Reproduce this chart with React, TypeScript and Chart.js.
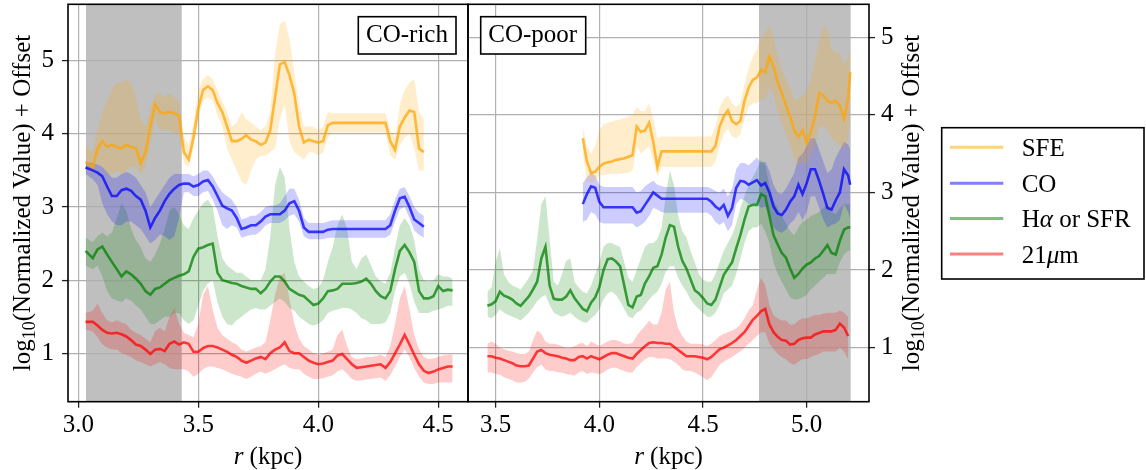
import React, { useEffect, useRef } from 'react';
import { Chart, registerables } from 'chart.js';

Chart.register(...registerables);

// ---------------- DATA ----------------
// Left panel (CO-rich): radius grid (kpc)
const LEFT_R = [
  3.03, 3.06, 3.08, 3.10, 3.12, 3.14, 3.16, 3.18, 3.20, 3.22,
  3.24, 3.26, 3.28, 3.30, 3.32, 3.34, 3.36, 3.38, 3.40, 3.42,
  3.44, 3.46, 3.48, 3.50, 3.52, 3.54, 3.56, 3.58, 3.60, 3.62,
  3.64, 3.66, 3.68, 3.70, 3.72, 3.74, 3.76, 3.78, 3.80, 3.82,
  3.84, 3.86, 3.88, 3.90, 3.92, 3.94, 3.96, 3.98, 4.00, 4.02,
  4.04, 4.06, 4.08, 4.10, 4.12, 4.14, 4.16, 4.18, 4.20, 4.22,
  4.24, 4.26, 4.28, 4.30, 4.32, 4.34, 4.36, 4.38, 4.40, 4.42,
  4.44, 4.46, 4.48, 4.50, 4.52, 4.54, 4.56,
];
const LEFT_SFE = [
  3.62, 3.55, 3.80, 3.90, 3.82, 3.85, 3.82, 3.80, 3.85, 3.82,
  3.80, 3.60, 3.75, 4.10, 4.40, 4.30, 4.28, 4.30, 4.28, 4.25,
  3.75, 3.65, 3.95, 4.35, 4.60, 4.65, 4.60, 4.42, 4.30, 4.10,
  3.90, 3.90, 3.93, 3.98, 3.92, 3.90, 3.85, 3.88, 4.05, 4.50,
  4.95, 4.98, 4.80, 4.55, 4.10, 3.88, 3.92, 3.90, 3.88, 3.90,
  4.12, 4.15, 4.15, 4.15, 4.15, 4.15, 4.15, 4.15, 4.15, 4.15,
  4.15, 4.15, 4.15, 3.90, 3.78, 4.10, 4.22, 4.32, 4.30, 3.80,
  3.75, null, null, null, null, null, null,
];
const LEFT_SFE_HI = [
  3.85, 3.75, 4.05, 4.30, 4.45, 4.60, 4.70, 4.70, 4.75, 4.70,
  4.50, 4.20, 4.10, 4.35, 4.55, 4.55, 4.50, 4.55, 4.50, 4.45,
  3.95, 3.85, 4.15, 4.60, 4.75, 4.80, 4.75, 4.60, 4.45, 4.30,
  4.10, 4.15, 4.30, 4.20, 4.15, 4.10, 4.05, 4.10, 4.30, 5.10,
  5.50, 5.55, 5.30, 4.85, 4.40, 4.10, 4.10, 4.10, 4.05, 4.10,
  4.30, 4.28, 4.28, 4.28, 4.28, 4.28, 4.28, 4.28, 4.28, 4.28,
  4.28, 4.28, 4.28, 4.05, 3.95, 4.40, 4.60, 4.70, 4.75, 4.30,
  4.20, null, null, null, null, null, null,
];
const LEFT_SFE_LO = [
  3.55, 3.45, 3.60, 3.55, 3.45, 3.45, 3.50, 3.45, 3.50, 3.55,
  3.55, 3.45, 3.55, 3.85, 4.20, 4.05, 4.05, 4.05, 4.00, 4.00,
  3.60, 3.55, 3.80, 4.20, 4.45, 4.50, 4.45, 4.25, 4.10, 3.80,
  3.65, 3.50, 3.35, 3.30, 3.50, 3.65, 3.70, 3.70, 3.75, 3.80,
  4.20, 4.40, 3.90, 3.75, 3.70, 3.65, 3.75, 3.75, 3.70, 3.75,
  3.95, 4.02, 4.02, 4.02, 4.02, 4.02, 4.02, 4.02, 4.02, 4.02,
  4.02, 4.02, 4.02, 3.70, 3.65, 3.85, 3.95, 4.00, 3.80, 3.50,
  3.50, null, null, null, null, null, null,
];
const LEFT_CO = [
  3.54, 3.50, 3.47, 3.42, 3.28, 3.15, 3.15, 3.23, 3.25, 3.22,
  3.15, 3.10, 2.95, 2.72, 2.85, 2.95, 3.08, 3.18, 3.25, 3.30,
  3.32, 3.32, 3.28, 3.30, 3.35, 3.37, 3.28, 3.15, 3.02, 2.98,
  2.95, 2.85, 2.70, 2.72, 2.75, 2.75, 2.80, 2.87, 2.90, 2.90,
  2.90, 2.95, 3.05, 3.08, 2.95, 2.72, 2.66, 2.66, 2.66, 2.66,
  2.69, 2.70, 2.70, 2.70, 2.70, 2.70, 2.70, 2.70, 2.70, 2.70,
  2.70, 2.70, 2.70, 2.75, 2.95, 3.12, 3.14, 3.00, 2.83, 2.78,
  2.73, null, null, null, null, null, null,
];
const LEFT_CO_HI = [
  3.62, 3.60, 3.58, 3.55, 3.48, 3.40, 3.40, 3.45, 3.48, 3.45,
  3.40, 3.30, 3.20, 3.00, 3.10, 3.20, 3.30, 3.40, 3.45, 3.45,
  3.45, 3.45, 3.42, 3.45, 3.50, 3.50, 3.42, 3.30, 3.20, 3.15,
  3.10, 3.00, 2.83, 2.85, 2.88, 2.88, 2.93, 3.00, 3.02, 3.02,
  3.05, 3.15, 3.25, 3.25, 3.10, 2.85, 2.78, 2.78, 2.78, 2.78,
  2.80, 2.82, 2.82, 2.82, 2.82, 2.82, 2.82, 2.82, 2.82, 2.82,
  2.82, 2.82, 2.82, 2.90, 3.10, 3.25, 3.27, 3.15, 3.00, 2.92,
  2.88, null, null, null, null, null, null,
];
const LEFT_CO_LO = [
  3.45, 3.38, 3.30, 3.05, 2.90, 2.80, 2.75, 2.75, 2.80, 2.80,
  2.75, 2.70, 2.60, 2.50, 2.55, 2.62, 2.60, 2.55, 2.60, 2.85,
  3.20, 3.20, 3.15, 3.15, 3.20, 3.22, 3.10, 2.95, 2.75, 2.70,
  2.75, 2.72, 2.58, 2.60, 2.62, 2.62, 2.67, 2.75, 2.78, 2.78,
  2.78, 2.82, 2.88, 2.90, 2.80, 2.60, 2.56, 2.56, 2.56, 2.56,
  2.58, 2.58, 2.58, 2.58, 2.58, 2.58, 2.58, 2.58, 2.58, 2.58,
  2.58, 2.58, 2.58, 2.62, 2.80, 2.97, 3.00, 2.85, 2.68, 2.62,
  2.58, null, null, null, null, null, null,
];
const LEFT_HA = [
  2.40, 2.30, 2.42, 2.46, 2.35, 2.25, 2.15, 2.05, 2.12, 2.08,
  2.02, 1.95, 1.85, 1.80, 1.88, 1.90, 1.95, 2.00, 2.03, 2.06,
  2.08, 2.12, 2.32, 2.43, 2.45, 2.48, 2.50, 2.10, 2.00, 1.98,
  1.96, 1.95, 1.92, 1.90, 1.88, 1.88, 1.82, 1.88, 1.98, 2.05,
  2.05, 1.98, 1.88, 1.84, 1.80, 1.78, 1.72, 1.66, 1.68, 1.75,
  1.85, 1.86, 1.88, 1.95, 1.95, 1.95, 1.96, 1.98, 2.02, 1.95,
  1.85, 1.78, 1.75, 1.85, 2.15, 2.40, 2.48, 2.38, 2.25, 1.85,
  1.75, 1.75, 1.78, 1.92, 1.85, 1.87, 1.86,
];
const LEFT_HA_HI = [
  2.58, 2.52, 2.60, 2.65, 2.60, 2.65, 2.85, 3.05, 2.95, 2.70,
  2.55, 2.45, 2.30, 2.25, 2.35, 2.50, 2.70, 2.95, 3.00, 2.90,
  2.75, 2.70, 2.85, 2.95, 3.05, 3.10, 3.00, 2.60, 2.30, 2.20,
  2.15, 2.10, 2.10, 2.05, 2.00, 2.00, 2.00, 2.15, 2.60, 3.30,
  3.55, 3.40, 2.70, 2.25, 2.05, 1.98, 1.92, 1.88, 1.90, 2.00,
  2.25, 2.45, 2.75, 2.90, 2.70, 2.25, 2.15, 2.30, 2.35, 2.20,
  2.05, 1.98, 1.95, 2.10, 2.45, 2.75, 2.85, 2.75, 2.55, 2.15,
  2.00, 1.98, 2.00, 2.08, 2.05, 2.05, 2.02,
];
const LEFT_HA_LO = [
  2.20, 2.15, 2.20, 2.05, 1.85, 1.75, 1.72, 1.70, 1.75, 1.72,
  1.65, 1.60, 1.50, 1.40, 1.40, 1.45, 1.50, 1.50, 1.55, 1.55,
  1.45, 1.40, 1.45, 1.65, 1.85, 1.95, 2.00, 1.70, 1.50, 1.40,
  1.38, 1.45, 1.50, 1.55, 1.60, 1.62, 1.60, 1.60, 1.65, 1.70,
  1.75, 1.70, 1.62, 1.58, 1.50, 1.45, 1.40, 1.38, 1.40, 1.45,
  1.55, 1.58, 1.60, 1.62, 1.62, 1.60, 1.55, 1.48, 1.45, 1.40,
  1.40, 1.40, 1.42, 1.55, 1.85, 2.05, 2.10, 1.95, 1.70, 1.55,
  1.55, 1.55, 1.58, 1.60, 1.62, 1.65, 1.65,
];
const LEFT_21 = [
  1.43, 1.43, 1.38, 1.32, 1.28, 1.27, 1.28, 1.26, 1.23, 1.18,
  1.12, 1.10, 1.05, 0.99, 1.05, 1.06, 1.03, 1.13, 1.16, 1.12,
  1.15, 1.13, 1.02, 1.02, 1.07, 1.10, 1.10, 1.08, 1.05, 1.02,
  0.98, 0.95, 0.90, 0.87, 0.90, 0.93, 0.95, 0.92, 1.00, 1.05,
  1.08, 1.15, 1.03, 1.00, 1.00, 0.95, 0.90, 0.87, 0.85, 0.86,
  0.88, 0.90, 0.97, 0.99, 0.92, 0.85, 0.80, 0.81, 0.82, 0.83,
  0.84, 0.85, 0.80, 0.88, 1.00, 1.12, 1.25, 1.12, 0.98, 0.85,
  0.76, 0.73, 0.75, 0.78, 0.80, 0.82, 0.82,
];
const LEFT_21_HI = [
  1.55, 1.58, 1.68, 1.55, 1.45, 1.42, 1.45, 1.42, 1.40, 1.32,
  1.28, 1.25, 1.20, 1.15, 1.30, 1.35, 1.30, 1.50, 1.62, 1.40,
  1.28, 1.25, 1.22, 1.40, 1.80, 1.92, 1.60, 1.35, 1.25, 1.20,
  1.15, 1.12, 1.05, 1.02, 1.05, 1.08, 1.10, 1.15, 1.45, 1.80,
  2.05, 2.10, 1.75, 1.40, 1.20, 1.10, 1.05, 1.00, 0.98, 1.00,
  1.02, 1.05, 1.25, 1.32, 1.10, 0.95, 0.92, 0.93, 0.95, 0.95,
  0.96, 0.98, 0.95, 1.10, 1.40, 1.75, 1.92, 1.60, 1.25, 1.05,
  0.95, 0.92, 0.93, 0.95, 0.97, 0.98, 0.98,
];
const LEFT_21_LO = [
  1.32, 1.30, 1.22, 1.12, 1.08, 1.05, 1.05, 1.00, 0.98, 0.95,
  0.90, 0.88, 0.85, 0.82, 0.85, 0.88, 0.85, 0.80, 0.78, 0.78,
  0.78, 0.75, 0.68, 0.72, 0.78, 0.82, 0.82, 0.80, 0.78, 0.75,
  0.72, 0.70, 0.68, 0.65, 0.68, 0.72, 0.75, 0.72, 0.75, 0.78,
  0.82, 0.85, 0.80, 0.78, 0.78, 0.72, 0.68, 0.65, 0.65, 0.66,
  0.68, 0.70, 0.75, 0.78, 0.72, 0.65, 0.62, 0.63, 0.64, 0.65,
  0.66, 0.67, 0.62, 0.70, 0.82, 0.95, 1.05, 0.95, 0.80, 0.68,
  0.60, 0.58, 0.58, 0.60, 0.60, 0.60, 0.60,
];

// Right panel (CO-poor): radius grid (kpc)
const RIGHT_R = [
  3.46, 3.48, 3.50, 3.52, 3.54, 3.56, 3.58, 3.60, 3.62, 3.64,
  3.66, 3.68, 3.70, 3.72, 3.74, 3.76, 3.78, 3.80, 3.82, 3.84,
  3.86, 3.88, 3.90, 3.92, 3.94, 3.96, 3.98, 4.00, 4.02, 4.04,
  4.06, 4.08, 4.10, 4.12, 4.14, 4.16, 4.18, 4.20, 4.22, 4.24,
  4.26, 4.28, 4.30, 4.32, 4.34, 4.36, 4.38, 4.40, 4.42, 4.44,
  4.46, 4.48, 4.50, 4.52, 4.54, 4.56, 4.58, 4.60, 4.62, 4.64,
  4.66, 4.68, 4.70, 4.72, 4.74, 4.76, 4.78, 4.80, 4.82, 4.84,
  4.86, 4.88, 4.90, 4.92, 4.94, 4.96, 4.98, 5.00, 5.02, 5.04,
  5.06, 5.08, 5.10, 5.12, 5.14, 5.16, 5.18, 5.20, 5.21,
];
const RIGHT_SFE = [
  null, null, null, null, null, null, null, null, null, null,
  null, null, null, null, null, null, null, null, null, null,
  null, null, null, 3.70, 3.40, 3.25, 3.27, 3.33, 3.37, 3.39,
  3.40, 3.42, 3.43, 3.44, 3.46, 3.48, 3.85, 3.78, 3.80, 3.90,
  3.65, 3.33, 3.53, 3.53, 3.53, 3.53, 3.53, 3.53, 3.53, 3.53,
  3.53, 3.53, 3.53, 3.53, 3.53, 3.60, 3.85, 3.98, 4.06, 3.92,
  3.88, 3.92, 4.18, 4.35, 4.45, 4.48, 4.58, 4.55, 4.75, 4.62,
  4.42, 4.28, 4.12, 3.98, 3.80, 3.72, 3.80, 3.64, 3.78, 3.98,
  4.28, 4.25, 4.18, 4.15, 4.18, 4.12, 3.95, 4.20, 4.55,
];
const RIGHT_SFE_HI = [
  null, null, null, null, null, null, null, null, null, null,
  null, null, null, null, null, null, null, null, null, null,
  null, null, null, 3.85, 3.60, 3.50, 3.60, 3.80, 3.88, 3.90,
  3.91, 3.93, 3.94, 3.96, 3.98, 4.00, 4.10, 4.05, 4.05, 4.15,
  3.95, 3.70, 3.72, 3.72, 3.72, 3.72, 3.72, 3.72, 3.72, 3.72,
  3.72, 3.72, 3.72, 3.72, 3.72, 3.85, 4.10, 4.20, 4.25, 4.15,
  4.10, 4.15, 4.40, 4.60, 4.75, 4.85, 5.00, 5.05, 5.15, 5.00,
  4.75, 4.60, 4.45, 4.35, 4.20, 4.20, 4.25, 4.30, 4.45, 4.70,
  4.95, 5.15, 5.10, 4.85, 4.80, 4.80, 4.65, 4.75, 4.85,
];
const RIGHT_SFE_LO = [
  null, null, null, null, null, null, null, null, null, null,
  null, null, null, null, null, null, null, null, null, null,
  null, null, null, 3.52, 3.15, 3.12, 3.15, 3.22, 3.23, 3.23,
  3.24, 3.24, 3.24, 3.25, 3.25, 3.28, 3.60, 3.50, 3.55, 3.60,
  3.40, 3.20, 3.33, 3.33, 3.33, 3.33, 3.33, 3.33, 3.33, 3.33,
  3.33, 3.33, 3.33, 3.33, 3.33, 3.40, 3.60, 3.75, 3.82, 3.72,
  3.70, 3.75, 3.95, 4.10, 4.15, 4.15, 4.20, 4.20, 4.35, 4.25,
  4.05, 3.90, 3.75, 3.60, 3.45, 3.35, 3.40, 3.35, 3.50, 3.60,
  3.85, 3.85, 3.80, 3.70, 3.65, 3.60, 3.55, 3.70, 3.95,
];
const RIGHT_CO = [
  null, null, null, null, null, null, null, null, null, null,
  null, null, null, null, null, null, null, null, null, null,
  null, null, null, 2.85, 2.98, 3.08, 3.06, 2.88, 2.81, 2.81,
  2.81, 2.81, 2.81, 2.81, 2.81, 2.81, 2.74, 2.76, 2.84, 2.92,
  3.00, 2.96, 2.92, 2.92, 2.92, 2.92, 2.92, 2.92, 2.92, 2.92,
  2.92, 2.92, 2.92, 2.92, 2.88, 2.82, 2.78, 2.84, 2.70, 2.80,
  3.06, 3.15, 3.14, 3.10, 3.13, 3.16, 3.09, 3.12, 3.00, 2.82,
  2.73, 2.71, 2.78, 2.88, 2.95, 3.10, 2.98, 3.12, 3.30, 3.30,
  3.15, 2.98, 2.80, 2.78, 2.90, 3.00, 3.30, 3.22, 3.10,
];
const RIGHT_CO_HI = [
  null, null, null, null, null, null, null, null, null, null,
  null, null, null, null, null, null, null, null, null, null,
  null, null, null, 3.12, 3.20, 3.25, 3.22, 3.10, 3.07, 3.07,
  3.07, 3.07, 3.07, 3.07, 3.07, 3.07, 3.00, 3.02, 3.08, 3.12,
  3.15, 3.10, 3.08, 3.07, 3.07, 3.07, 3.07, 3.07, 3.07, 3.07,
  3.07, 3.07, 3.07, 3.07, 3.05, 3.02, 3.00, 3.05, 2.95, 3.05,
  3.30, 3.38, 3.38, 3.35, 3.40, 3.45, 3.38, 3.40, 3.28, 3.10,
  3.00, 2.98, 3.05, 3.15, 3.25, 3.45, 3.50, 3.60, 3.70, 3.70,
  3.55, 3.40, 3.25, 3.30, 3.45, 3.55, 3.65, 3.62, 3.55,
];
const RIGHT_CO_LO = [
  null, null, null, null, null, null, null, null, null, null,
  null, null, null, null, null, null, null, null, null, null,
  null, null, null, 2.62, 2.65, 2.75, 2.72, 2.62, 2.60, 2.60,
  2.60, 2.60, 2.60, 2.60, 2.60, 2.60, 2.55, 2.58, 2.62, 2.70,
  2.80, 2.78, 2.75, 2.74, 2.74, 2.74, 2.74, 2.74, 2.74, 2.74,
  2.74, 2.74, 2.74, 2.74, 2.70, 2.62, 2.58, 2.62, 2.50, 2.58,
  2.85, 2.92, 2.90, 2.85, 2.85, 2.85, 2.80, 2.82, 2.72, 2.55,
  2.50, 2.48, 2.52, 2.60, 2.65, 2.75, 2.65, 2.75, 2.95, 2.95,
  2.80, 2.65, 2.55, 2.58, 2.60, 2.65, 2.85, 2.75, 2.65,
];
const RIGHT_HA = [
  1.54, 1.56, 1.60, 1.72, 1.67, 1.65, 1.62, 1.57, 1.54, 1.60,
  1.66, 1.75, 1.85, 2.15, 2.30, 1.80, 1.63, 1.62, 1.62, 1.66,
  1.74, 1.64, 1.57, 1.50, 1.47, 1.58, 1.65, 1.78, 2.00, 2.14,
  2.15, 2.11, 2.05, 1.80, 1.55, 1.52, 1.66, 1.68, 1.83, 1.92,
  2.03, 2.05, 2.20, 2.42, 2.58, 2.56, 2.30, 2.12, 2.02, 1.88,
  1.74, 1.70, 1.64, 1.57, 1.55, 1.62, 1.78, 1.94, 2.02, 2.10,
  2.28, 2.45, 2.65, 2.82, 2.84, 2.84, 2.98, 2.95, 2.70, 2.45,
  2.33, 2.22, 2.16, 2.02, 1.90, 1.95, 2.02, 2.07, 2.10, 2.15,
  2.18, 2.25, 2.32, 2.22, 2.20, 2.38, 2.52, 2.55, 2.55,
];
const RIGHT_HA_HI = [
  1.72, 1.78, 2.10, 2.28, 1.95, 1.85, 1.80, 1.78, 1.75, 1.82,
  1.90, 2.00, 2.40, 2.85, 2.95, 2.40, 1.85, 1.80, 1.95, 2.12,
  2.15, 1.85, 1.78, 1.72, 1.70, 1.80, 1.95, 2.10, 2.30, 2.35,
  2.35, 2.32, 2.30, 2.10, 1.90, 1.85, 2.00, 2.15, 2.30, 2.35,
  2.35, 2.40, 2.55, 2.95, 3.28, 3.10, 2.70, 2.50, 2.42, 2.25,
  2.10, 1.95, 1.88, 1.85, 1.85, 1.95, 2.10, 2.25, 2.35, 2.45,
  2.60, 2.80, 2.95, 3.10, 3.20, 3.30, 3.42, 3.35, 3.10, 2.90,
  2.80, 2.70, 2.60, 2.50, 2.45, 2.55, 2.62, 2.65, 2.70, 2.72,
  2.75, 2.80, 2.85, 2.75, 2.72, 2.80, 2.85, 2.85, 2.85,
];
const RIGHT_HA_LO = [
  1.40, 1.38, 1.42, 1.50, 1.45, 1.42, 1.40, 1.38, 1.35, 1.40,
  1.45, 1.52, 1.60, 1.65, 1.68, 1.55, 1.45, 1.42, 1.40, 1.42,
  1.45, 1.40, 1.36, 1.33, 1.32, 1.38, 1.42, 1.50, 1.62, 1.70,
  1.72, 1.68, 1.60, 1.50, 1.40, 1.38, 1.45, 1.48, 1.55, 1.62,
  1.68, 1.72, 1.82, 1.98, 2.05, 2.05, 1.90, 1.80, 1.72, 1.62,
  1.55, 1.50, 1.45, 1.40, 1.40, 1.45, 1.55, 1.70, 1.75, 1.80,
  1.95, 2.15, 2.35, 2.50, 2.55, 2.55, 2.60, 2.50, 2.35, 2.10,
  1.95, 1.85, 1.75, 1.65, 1.62, 1.62, 1.65, 1.68, 1.75, 1.80,
  1.85, 1.90, 1.95, 1.95, 1.95, 2.10, 2.20, 2.25, 2.25,
];
const RIGHT_21 = [
  0.89, 0.89, 0.87, 0.86, 0.84, 0.82, 0.80, 0.77, 0.76, 0.76,
  0.77, 0.86, 0.95, 0.97, 0.93, 0.91, 0.90, 0.89, 0.87, 0.86,
  0.84, 0.84, 0.88, 0.89, 0.86, 0.89, 0.87, 0.85, 0.88, 0.91,
  0.93, 0.93, 0.91, 0.89, 0.87, 0.86, 0.92, 0.97, 1.02, 1.06,
  1.07, 1.06, 1.06, 1.05, 1.05, 1.01, 0.97, 0.93, 0.89, 0.89,
  0.89, 0.88, 0.87, 0.85, 0.88, 0.93, 0.98, 1.00, 1.03, 1.06,
  1.10, 1.15, 1.20, 1.28, 1.36, 1.41, 1.47, 1.50, 1.30, 1.20,
  1.14, 1.10, 1.09, 1.04, 1.05, 1.10, 1.12, 1.13, 1.13, 1.17,
  1.19, 1.21, 1.21, 1.21, 1.23, 1.31, 1.26, 1.15, null,
];
const RIGHT_21_HI = [
  1.05, 1.08, 1.05, 1.00, 0.98, 0.96, 0.95, 0.93, 0.92, 0.92,
  0.95, 1.10, 1.22, 1.18, 1.08, 1.05, 1.05, 1.04, 1.02, 1.00,
  1.00, 1.02, 1.05, 1.06, 1.02, 1.08, 1.05, 1.02, 1.05, 1.08,
  1.10, 1.10, 1.08, 1.05, 1.05, 1.06, 1.15, 1.22, 1.28, 1.35,
  1.30, 1.30, 1.45, 1.75, 1.85, 1.45, 1.25, 1.15, 1.08, 1.05,
  1.05, 1.05, 1.04, 1.02, 1.05, 1.10, 1.15, 1.18, 1.20, 1.22,
  1.25, 1.30, 1.38, 1.48, 1.55, 1.75, 1.90, 1.80, 1.55, 1.42,
  1.38, 1.35, 1.35, 1.30, 1.30, 1.35, 1.38, 1.38, 1.40, 1.42,
  1.42, 1.44, 1.45, 1.45, 1.45, 1.48, 1.45, 1.40, null,
];
const RIGHT_21_LO = [
  0.68, 0.68, 0.66, 0.65, 0.62, 0.60, 0.58, 0.55, 0.55, 0.56,
  0.60, 0.68, 0.75, 0.78, 0.72, 0.70, 0.70, 0.68, 0.68, 0.66,
  0.65, 0.64, 0.68, 0.70, 0.66, 0.68, 0.67, 0.66, 0.68, 0.72,
  0.74, 0.74, 0.72, 0.70, 0.68, 0.68, 0.75, 0.80, 0.85, 0.88,
  0.88, 0.86, 0.86, 0.86, 0.85, 0.82, 0.78, 0.72, 0.70, 0.70,
  0.68, 0.65, 0.62, 0.58, 0.62, 0.70, 0.78, 0.82, 0.85, 0.88,
  0.92, 0.95, 1.00, 1.05, 1.10, 1.15, 1.20, 1.20, 1.05, 0.98,
  0.92, 0.88, 0.85, 0.80, 0.78, 0.82, 0.85, 0.85, 0.88, 0.90,
  0.92, 0.95, 0.95, 0.95, 0.95, 1.00, 0.95, 0.85, null,
];

// Axes / ticks / labels
const LEFT_X_TICKS = [3.0, 3.5, 4.0, 4.5];
const RIGHT_X_TICKS = [3.5, 4.0, 4.5, 5.0];
const Y_TICKS = [1, 2, 3, 4, 5];
const LEFT_X_RANGE = [2.957, 4.624];
const RIGHT_X_RANGE = [3.3664, 5.3005];
const LEFT_Y_RANGE = [0.338, 5.771];
const RIGHT_Y_RANGE = [0.304, 5.425];
const LEFT_SPAN = [3.032, 3.431];
const RIGHT_SPAN = [4.77, 5.212];
const LEGEND_LABELS = ['SFE', 'CO', 'Hα or SFR', '21μm'];
const PANEL_LABELS = ['CO-rich', 'CO-poor'];
const X_TITLE_ITALIC = 'r';
const X_TITLE_REST = ' (kpc)';
const Y_TITLE_PARTS = ['log', '10', '(Normalized Value) + Offset'];

// ---------------- STYLE ----------------
const FONT = '"Liberation Serif", "Times New Roman", serif';
const FS = 25;
const RGB = ['255,165,0', '0,0,255', '0,128,0', '255,0,0'];

type P = { t: string; italic?: boolean; sub?: boolean };

function fontFor(p: P) {
  const size = p.sub ? Math.round(FS * 0.7) : FS;
  return `${p.italic ? 'italic ' : ''}${size}px ${FONT}`;
}

function drawParts(ctx: CanvasRenderingContext2D, parts: P[], x: number, y: number, align: 'left' | 'center') {
  const widths = parts.map((p) => {
    ctx.font = fontFor(p);
    return ctx.measureText(p.t).width;
  });
  const total = widths.reduce((a, b) => a + b, 0);
  let cx = align === 'center' ? x - total / 2 : x;
  ctx.textAlign = 'left';
  ctx.textBaseline = 'alphabetic';
  parts.forEach((p, i) => {
    ctx.font = fontFor(p);
    ctx.fillText(p.t, cx, y + (p.sub ? 5 : 0));
    cx += widths[i];
  });
}

function labelParts(label: string): P[] {
  const out: P[] = [];
  for (const ch of label) {
    const italic = /[α-ω]/.test(ch);
    const last = out[out.length - 1];
    if (last && !!last.italic === italic) last.t += ch;
    else out.push({ t: ch, italic });
  }
  return out;
}

function yTitleParts(): P[] {
  return [{ t: Y_TITLE_PARTS[0] }, { t: Y_TITLE_PARTS[1], sub: true }, { t: Y_TITLE_PARTS[2] }];
}

function drawYTitle(ctx: CanvasRenderingContext2D, baselineX: number, cy: number) {
  ctx.save();
  ctx.translate(baselineX, cy);
  ctx.rotate(-Math.PI / 2);
  ctx.fillStyle = '#000';
  drawParts(ctx, yTitleParts(), 0, 0, 'center');
  ctx.restore();
}

function drawXTitle(ctx: CanvasRenderingContext2D, cx: number, baseline: number) {
  ctx.fillStyle = '#000';
  drawParts(ctx, [{ t: X_TITLE_ITALIC, italic: true }, { t: X_TITLE_REST }], cx, baseline, 'center');
}

function drawBoxLabel(ctx: CanvasRenderingContext2D, text: string, x: number, y: number, w: number, h: number, tx: number, ty: number) {
  ctx.save();
  ctx.fillStyle = '#fff';
  ctx.fillRect(x, y, w, h);
  ctx.strokeStyle = '#000';
  ctx.lineWidth = 1.6;
  ctx.strokeRect(x, y, w, h);
  ctx.fillStyle = '#000';
  drawParts(ctx, [{ t: text }], tx, ty, 'left');
  ctx.restore();
}

function pts(xs: number[], ys: (number | null)[]) {
  const out: { x: number; y: number }[] = [];
  for (let i = 0; i < xs.length; i++) {
    const v = ys[i];
    if (v !== null && v !== undefined) out.push({ x: xs[i], y: v });
  }
  return out;
}

type S = { line: (number | null)[]; lo: (number | null)[]; hi: (number | null)[] };

function buildDatasets(xs: number[], series: S[]) {
  const bands: any[] = [];
  series.forEach((s, k) => {
    bands.push({
      data: pts(xs, s.lo), borderWidth: 0, borderColor: 'transparent', pointRadius: 0, fill: false, order: 10,
    });
    bands.push({
      data: pts(xs, s.hi), borderWidth: 0, borderColor: 'transparent', pointRadius: 0, fill: '-1', order: 10,
      backgroundColor: `rgba(${RGB[k]},0.2)`,
    });
  });
  const lines = series.map((s, k) => ({
    data: pts(xs, s.line), borderColor: `rgba(${RGB[k]},0.74)`, borderWidth: 2.6, pointRadius: 0, fill: false, order: 1,
  }));
  return [...bands, ...lines];
}

function tickFont() {
  return { family: FONT, size: FS, lineHeight: 1 };
}

function gridOpts() {
  return { color: '#b0b0b0', lineWidth: 1.2, tickLength: 6, tickColor: '#222', tickWidth: 1.3, drawTicks: true };
}

function makeDecor(span: number[], isRight: boolean) {
  return {
    id: 'decor' + (isRight ? 'R' : 'L'),
    beforeDraw(chart: any) {
      const { ctx, chartArea } = chart;
      const xs = chart.scales.x;
      const x0 = Math.max(chartArea.left, xs.getPixelForValue(span[0]));
      const x1 = Math.min(chartArea.right, xs.getPixelForValue(span[1]));
      ctx.save();
      ctx.fillStyle = '#bfbfbf';
      ctx.fillRect(x0, chartArea.top, x1 - x0, chartArea.bottom - chartArea.top);
      ctx.restore();
    },
    afterDraw(chart: any) {
      const { ctx, chartArea } = chart;
      ctx.save();
      ctx.strokeStyle = '#000';
      ctx.lineWidth = 1.6;
      ctx.strokeRect(chartArea.left, chartArea.top, chartArea.right - chartArea.left, chartArea.bottom - chartArea.top);
      const cx = (chartArea.left + chartArea.right) / 2;
      const cy = (chartArea.top + chartArea.bottom) / 2;
      drawXTitle(ctx, cx, 464);
      if (!isRight) {
        drawYTitle(ctx, 30.3, cy);
        drawBoxLabel(ctx, PANEL_LABELS[0], 358.3, 16.7, 97.7, 37.3, 366, 41.7);
      } else {
        drawYTitle(ctx, 919, cy);
        drawBoxLabel(ctx, PANEL_LABELS[1], 480.7, 16.7, 105, 37.3, 488.3, 41.7);
        // legend
        ctx.fillStyle = '#fff';
        ctx.fillRect(941.7, 127.7, 202.3, 151.3);
        ctx.strokeStyle = '#000';
        ctx.lineWidth = 1.6;
        ctx.strokeRect(941.7, 127.7, 202.3, 151.3);
        const ys = [147.3, 183.3, 218.6, 254];
        LEGEND_LABELS.forEach((lab, k) => {
          ctx.strokeStyle = `rgba(${RGB[k]},0.5)`;
          ctx.lineWidth = 3;
          ctx.beginPath();
          ctx.moveTo(950, ys[k]);
          ctx.lineTo(1003.3, ys[k]);
          ctx.stroke();
          ctx.fillStyle = '#000';
          drawParts(ctx, labelParts(lab), 1021.7, ys[k] + 8.5, 'left');
        });
      }
      ctx.restore();
    },
  };
}

function makeConfig(isRight: boolean): any {
  const xs = isRight ? RIGHT_R : LEFT_R;
  const series: S[] = isRight
    ? [
        { line: RIGHT_SFE, lo: RIGHT_SFE_LO, hi: RIGHT_SFE_HI },
        { line: RIGHT_CO, lo: RIGHT_CO_LO, hi: RIGHT_CO_HI },
        { line: RIGHT_HA, lo: RIGHT_HA_LO, hi: RIGHT_HA_HI },
        { line: RIGHT_21, lo: RIGHT_21_LO, hi: RIGHT_21_HI },
      ]
    : [
        { line: LEFT_SFE, lo: LEFT_SFE_LO, hi: LEFT_SFE_HI },
        { line: LEFT_CO, lo: LEFT_CO_LO, hi: LEFT_CO_HI },
        { line: LEFT_HA, lo: LEFT_HA_LO, hi: LEFT_HA_HI },
        { line: LEFT_21, lo: LEFT_21_LO, hi: LEFT_21_HI },
      ];
  const xr = isRight ? RIGHT_X_RANGE : LEFT_X_RANGE;
  const yr = isRight ? RIGHT_Y_RANGE : LEFT_Y_RANGE;
  const xt = isRight ? RIGHT_X_TICKS : LEFT_X_TICKS;
  return {
    type: 'line',
    data: { datasets: buildDatasets(xs, series) },
    options: {
      animation: false,
      responsive: false,
      devicePixelRatio: 1,
      events: [],
      layout: {
        padding: isRight
          ? { left: 468, top: 4.3, right: 1146 - 869 - 100, bottom: 0 }
          : { left: 0, top: 4.3, right: 1146 - 468, bottom: 0 },
      },
      elements: { point: { radius: 0 }, line: { tension: 0 } },
      plugins: { legend: { display: false }, tooltip: { enabled: false }, title: { display: false } },
      scales: {
        x: {
          type: 'linear',
          min: xr[0],
          max: xr[1],
          afterBuildTicks: (s: any) => { s.ticks = xt.map((v) => ({ value: v })); },
          afterFit: (s: any) => {
            s.height = 470 - 401.7;
            s.paddingLeft = 0; s.paddingRight = 0; s.paddingTop = 0; s.paddingBottom = 0;
          },
          ticks: {
            autoSkip: false, maxRotation: 0, minRotation: 0, color: '#000', font: tickFont(), padding: 5,
            callback: (v: any) => Number(v).toFixed(1),
          },
          grid: gridOpts(),
          border: { display: false },
        },
        y: {
          type: 'linear',
          position: isRight ? 'right' : 'left',
          min: yr[0],
          max: yr[1],
          afterBuildTicks: (s: any) => { s.ticks = Y_TICKS.map((v) => ({ value: v })); },
          afterFit: (s: any) => {
            s.width = isRight ? 100 : 68;
            s.paddingLeft = 0; s.paddingRight = 0; s.paddingTop = 0; s.paddingBottom = 0;
          },
          ticks: {
            color: '#000', font: tickFont(), padding: isRight ? 6 : 8,
            callback: (v: any) => String(v),
          },
          grid: gridOpts(),
          border: { display: false },
        },
      },
    },
    plugins: [makeDecor(isRight ? RIGHT_SPAN : LEFT_SPAN, isRight)],
  };
}

export default function App() {
  const leftRef = useRef<HTMLCanvasElement>(null);
  const rightRef = useRef<HTMLCanvasElement>(null);
  useEffect(() => {
    const c1 = new Chart(leftRef.current as HTMLCanvasElement, makeConfig(false));
    const c2 = new Chart(rightRef.current as HTMLCanvasElement, makeConfig(true));
    return () => {
      c1.destroy();
      c2.destroy();
    };
  }, []);
  const cs: React.CSSProperties = { position: 'absolute', left: 0, top: 0, width: 1146, height: 470 };
  return (
    <div style={{ position: 'absolute', left: 0, top: 0, width: 1146, height: 470, background: '#fff', overflow: 'hidden' }}>
      <canvas ref={leftRef} width={1146} height={470} style={cs} />
      <canvas ref={rightRef} width={1146} height={470} style={cs} />
    </div>
  );
}
